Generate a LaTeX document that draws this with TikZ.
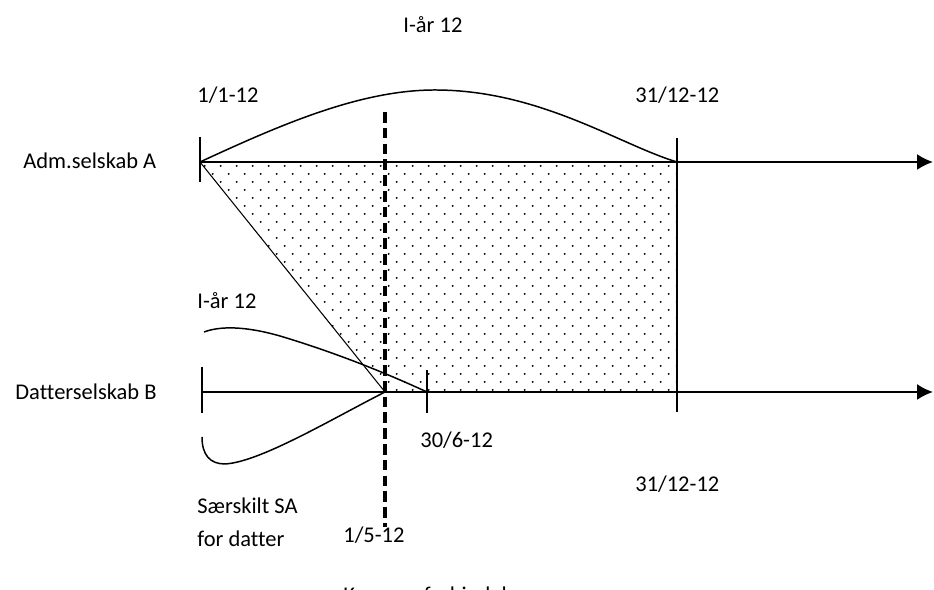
\documentclass[tikz,border=0pt]{standalone}
\usepackage{fontspec}
\setmainfont[Ligatures=NoCommon]{Carlito}
\usetikzlibrary{arrows.meta}
\tikzset{
  axisline/.style={line width=1.1pt, -{Latex[length=3.2mm,width=3.2mm]}},
  tickline/.style={line width=1.1pt},
  yearcurve/.style={line width=0.85pt},
  cutline/.style={line width=1.9pt, dash pattern=on 6pt off 3pt},
  lbl/.style={font=\fontsize{12.8}{15}\selectfont, inner sep=0pt, anchor=west},
}

\begin{document}
\begin{tikzpicture}[x=0.02cm,y=0.02cm]
    \useasboundingbox (0,0) rectangle (934,590);
    % --- key points ---
    \coordinate (aStart) at (200,428);
    \coordinate (aEnd) at (677,428);
    \coordinate (aTip) at (933,428);
    \coordinate (bStart) at (202,198);
    \coordinate (bJoin) at (385,198);
    \coordinate (bHalf) at (427,198);
    \coordinate (bYear) at (677,198);
    \coordinate (bTip) at (933,198);
    % --- dotted area ---
    \begin{scope}
      \clip (aStart) -- (aEnd) -- (bYear) -- (bJoin) -- cycle;
      \foreach \i in {0,...,30}
        \foreach \j in {0,...,29}
          \fill ({204.7+16*\i+8*mod(\j,2)},{424-8*\j}) circle (0.6pt);
    \end{scope}
    % --- time axes ---
    \draw[axisline] (aStart) -- (aTip);
    \draw[axisline] (bStart) -- (bTip);
    \draw[tickline] (200,453) -- (200,408);
    \draw[tickline] (677,452) -- (677,178);
    \draw[tickline] (202,223) -- (202,177);
    \draw[tickline] (427,220) -- (427,177);
    \draw[line width=0.6pt] (aStart) -- (bJoin);
    % --- income years ---
    \draw[yearcurve] (aStart) .. controls (280,465) and (360,500) .. (435,500)
      .. controls (540,500) and (620,445) .. (aEnd);
    \draw[yearcurve] (204,258) .. controls (220,264) and (245,264) .. (280,254)
      .. controls (340,236) and (390,215) .. (bHalf);
    \draw[yearcurve] (202,153) .. controls (202,135) and (210,126) .. (225,126)
      .. controls (260,128) and (330,170) .. (bJoin);
    % --- group date ---
    \draw[cutline] (385,478) -- (385,63);
    % --- labels ---
    \node[lbl] (yearA) at (403,565) {I-år 12};
    \node[lbl] (startA) at (197,495) {1/1-12};
    \node[lbl] (endA) at (635,495) {31/12-12};
    \node[lbl] (lblA) at (23,429) {Adm.selskab A};
    \node[lbl] (lblB) at (15,198) {Datterselskab B};
    \node[lbl] (yearB) at (197,289) {I-år 12};
    \node[lbl] (halfB) at (420,150) {30/6-12};
    \node[lbl] (endB) at (635,106) {31/12-12};
    \node[lbl,align=left,font=\fontsize{12.8}{18.8}\selectfont] (sepSA) at (197,67.5)
      {Særskilt SA\\for datter};
    \node[lbl] (joinDate) at (343,55) {1/5-12};
    \node[lbl,anchor=base west] (groupNote) at (343,-13) {Koncern forbindelse};
\end{tikzpicture}
\end{document}
